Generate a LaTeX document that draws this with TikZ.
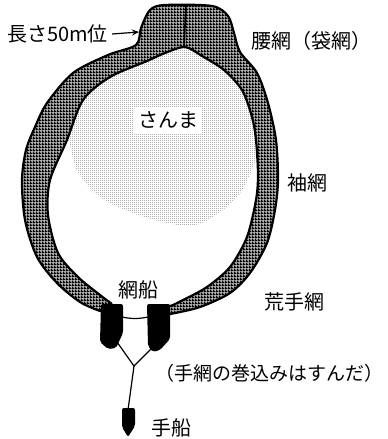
\documentclass[tikz,border=0pt]{standalone}
\usepackage{fontspec}
\newfontfamily\jpfont{Noto Sans CJK JP}
\usetikzlibrary{patterns,arrows.meta}

% dark net mesh for the seine wall
\pgfdeclarepatternformonly{netmesh}{\pgfpointorigin}{\pgfpoint{3pt}{3pt}}{\pgfpoint{3pt}{3pt}}{%
  \pgfpathrectangle{\pgfpointorigin}{\pgfpoint{3pt}{1.6pt}}%
  \pgfpathrectangle{\pgfpointorigin}{\pgfpoint{1.6pt}{3pt}}%
  \pgfusepath{fill}}
% fine dot screen for the school of fish
\pgfdeclarepatternformonly{fishdots}{\pgfpointorigin}{\pgfpoint{2pt}{2pt}}{\pgfpoint{2pt}{2pt}}{%
  \pgfpathrectangle{\pgfpointorigin}{\pgfpoint{0.9pt}{0.9pt}}%
  \pgfusepath{fill}}

\tikzset{
  label/.style={font=\jpfont\fontsize{20}{20}\selectfont, inner sep=0pt},
  netedge/.style={line width=2.2pt, line join=round},
  rope/.style={line width=1.2pt},
  boat/.style={fill=black, rounded corners=2pt},
}

\begin{document}
\begin{tikzpicture}[x=1pt,y=-1pt]
\useasboundingbox (0,0) rectangle (388,439);

% school of fish inside the net
\fill[pattern=fishdots, pattern color=black!75]
  (66,135) -- (66,100) -- (110,60) -- (185,35) -- (240,55) -- (262,110) -- (262,150)
  -- plot[smooth, tension=0.6] coordinates {(258,150) (253,167) (240,193) (220,212)
     (195,225) (167,223) (133,213) (100,197) (78,172) (70,145) (64,130)} -- cycle;

% net wall: outer and inner edges
\path[save path=\ringshape]
  plot[smooth, tension=0.5] coordinates {(112,314) (100,311) (80,302) (57,283) (37,257)
     (25,220) (22,180) (26,150) (35,127) (47,103) (73,73) (108,55) (136,45) (141,28)
     (150,10) (165,5) (212,6) (228,16) (234,33) (240,52) (257,73) (268,103) (276,140)
     (278,180) (275,210) (267,243) (250,273) (230,293) (200,307) (170,314) (158,315)}
  -- plot[smooth, tension=0.5] coordinates {(158,306) (170,306) (183,300) (207,287)
     (230,267) (247,237) (256,200) (258,175) (256,140) (252,117) (242,90) (224,70)
     (202,56) (185,47) (165,53) (147,61) (110,77) (83,100) (67,140) (50,180) (48,215)
     (58,253) (78,277) (100,295) (112,304)}
  -- cycle;
\fill[black!30, use path=\ringshape];
\fill[pattern=netmesh, pattern color=black, use path=\ringshape];

\draw[netedge] plot[smooth, tension=0.5] coordinates {(112,314) (100,311) (80,302) (57,283) (37,257)
     (25,220) (22,180) (26,150) (35,127) (47,103) (73,73) (108,55) (136,45) (141,28)
     (150,10) (165,5) (212,6) (228,16) (234,33) (240,52) (257,73) (268,103) (276,140)
     (278,180) (275,210) (267,243) (250,273) (230,293) (200,307) (170,314) (158,315)};
\draw[netedge] plot[smooth, tension=0.5] coordinates {(158,306) (170,306) (183,300) (207,287)
     (230,267) (247,237) (256,200) (258,175) (256,140) (252,117) (242,90) (224,70)
     (202,56) (185,47) (165,53) (147,61) (110,77) (83,100) (67,140) (50,180) (48,215)
     (58,253) (78,277) (100,295) (112,304)};
% seam of the bag section
\draw[line width=1.6pt] (186,5) -- (184,47);

% rope points
\coordinate (lbMid) at (122,317);
\coordinate (rbMid) at (148,317);
\coordinate (lbFoot) at (117,342);
\coordinate (rbFoot) at (152,348);
\coordinate (join) at (134,366);
\coordinate (tbTop) at (128,410);
\coordinate (bagL) at (139,32);

\draw[rope] (lbMid) .. controls (132,319) and (138,319) .. (rbMid);
\draw[rope] (lbFoot) -- (join) -- (rbFoot);
\draw[rope] (join) -- (tbTop);

% net boats and hand boat
\fill[boat] (101,304) -- (123,304) -- (123,333) -- (116,348) -- (108,349) -- (100,342) -- cycle;
\fill[boat] (147,304) -- (170,304) -- (170,339) -- (160,350) -- (153,352) -- (148,346) -- cycle;
\fill[boat] (122,408) -- (135,408) -- (135,426) -- (128,437) -- (122,427) -- cycle;

% labels
\node[label, anchor=west] (len) at (7,34) {長さ50m位};
\draw[line width=1.2pt, -{Stealth[length=7pt,width=6pt]}] ([xshift=4pt]len.east) -- (bagL);
\node[label, anchor=west] (koshi) at (251,41) {腰網（袋網）};
\node[label, fill=white, inner xsep=4pt, minimum height=26pt] (sanma) at (168,120) {さんま};
\node[label, anchor=west] (sode) at (287,183) {袖網};
\node[label, anchor=west] (arate) at (264,302) {荒手網};
\node[label] (amibune) at (138,290) {網船};
\node[label, anchor=west, font=\jpfont\fontsize{19}{19}\selectfont] (note) at (155,373) {（手網の巻込みはすんだ）};
\node[label, anchor=west] (tebune) at (151,428) {手船};
\end{tikzpicture}
\end{document}
